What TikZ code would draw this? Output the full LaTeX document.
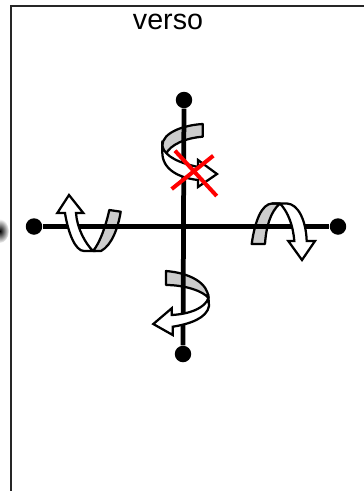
\documentclass[tikz,border=0pt]{standalone}
\usepackage{fontspec}
\setmainfont{Liberation Sans}
\usetikzlibrary{shapes.geometric,positioning}
\tikzset{
    axisend/.style={
        circle, fill=black, inner sep=0pt, minimum size=0.33cm
    },
    axisline/.style={draw=black, line width=0.095cm},
    frameline/.style={draw=black!85, line width=0.04cm},
    greyband/.style={draw=black, fill=black!20, line width=0.045cm, line join=round},
    whiteband/.style={draw=black, fill=white, line width=0.045cm, line join=miter},
    forbid/.style={draw=red, line width=0.08cm},
    title/.style={anchor=base, font=\fontsize{16.3pt}{18pt}\selectfont}
}
\begin{document}
\begin{tikzpicture}[x=0.02cm, y=-0.02cm]
\useasboundingbox (0,0) rectangle (364,491);

%% Frame, open at the right and at the bottom
\shade[inner color=black, outer color=white] (0,231) ellipse (9 and 12);
\draw[frameline] (11,491) -- (11,6) -- (364,6);
\node[title] (verso) at (168,29) {verso};

%% Grey parts lie behind the axes
\draw[greyband] (202.7,124) .. controls (185,125) and (162,132) .. (162.3,146)
    .. controls (163,150) and (164,152) .. (166,154)
    .. controls (170,145) and (185,138) .. (202.7,136.7) -- cycle;
\draw[greyband] (166,271) .. controls (190,273) and (208,283) .. (208.5,298)
    .. controls (203,291) and (185,285) .. (166,285) -- cycle;
\draw[greyband] (109.3,210) .. controls (106,225) and (100,243) .. (93,251) -- (101,251)
    .. controls (112,245) and (118,228) .. (120.7,211.7) -- cycle;
\draw[greyband] (251.7,244) .. controls (255,220) and (262,204) .. (272,203.5) -- (280,203.5)
    .. controls (270,212) and (266,228) .. (265,244) -- cycle;

%% Axes
\node[axisend] (top)    at (184,100) {};
\node[axisend] (bottom) at (183,354) {};
\node[axisend] (left)   at (34,226.5) {};
\node[axisend] (right)  at (338,226.5) {};
\draw[axisline] (top) -- (bottom);
\draw[axisline] (left) -- (right);

%% White arrows pass in front of the axes
\draw[whiteband] (162.3,146) .. controls (165,157) and (180,163) .. (198,167)
    -- (198,160) -- (217,174) -- (198,187) -- (198,180)
    .. controls (180,178) and (162,170) .. (162.3,152) -- cycle;
\draw[whiteband] (208.5,298) -- (209,306) .. controls (207,318) and (190,324) .. (172.7,326.7)
    -- (172.7,335) -- (153.3,324) -- (171.7,308.3) -- (171.7,315)
    .. controls (190,314) and (205,308) .. (208.5,298) -- cycle;
\draw[whiteband] (65,213) .. controls (68,232) and (75,251) .. (84,251) -- (93,251)
    .. controls (85,243) and (77,228) .. (76,213)
    -- (83.3,213) -- (69,195) -- (57.3,213) -- cycle;
\draw[whiteband] (272,203.5) -- (287,203.5) .. controls (298,204) and (306,220) .. (306.7,241)
    -- (315,241) -- (302,260) -- (288.3,241) -- (294.3,241)
    .. controls (293,225) and (288,212) .. (280,203.5) -- cycle;

%% Red cross on the top arrow
\draw[forbid] (175,150.7) -- (216.7,196);
\draw[forbid] (171.7,189) -- (213.3,155.7);

\end{tikzpicture}
\end{document}
